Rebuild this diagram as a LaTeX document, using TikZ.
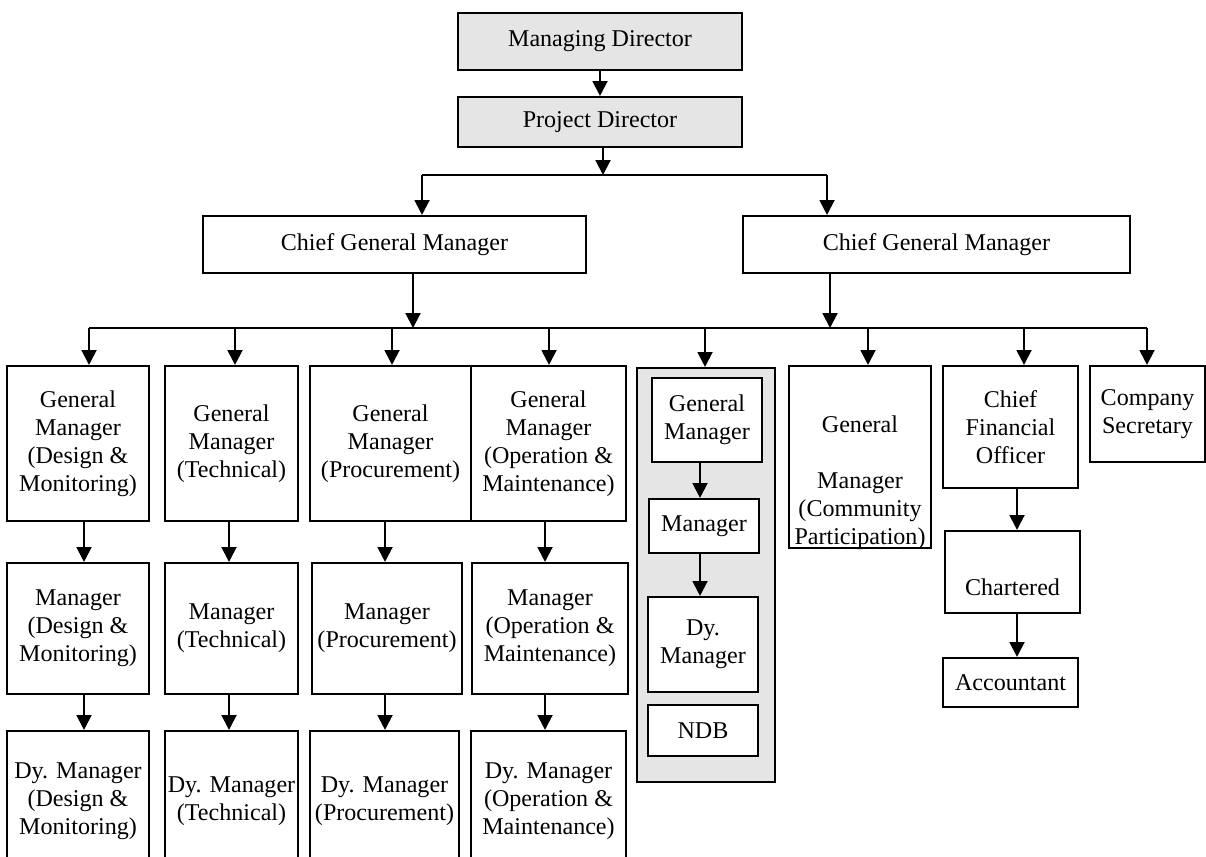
\documentclass[tikz,border=0pt]{standalone}
\usepackage{fontspec}
\setmainfont{Liberation Serif}
\usetikzlibrary{arrows.meta,calc}
\tikzset{
  box/.style={draw,line width=1.2pt,fill=white,align=center,inner sep=0pt},
  sz/.style 2 args={minimum width=#1*0.02cm,minimum height=#2*0.02cm},
  arr/.style={line width=1.2pt,-{Triangle[width=8.5pt,length=8.5pt]}}}

\begin{document}
\begin{tikzpicture}[x=0.02cm,y=-0.02cm,font=\fontsize{13.7}{15.9}\selectfont]
\useasboundingbox (0,0) rectangle (1206,856);
\clip (0,0) rectangle (1206,856);
% top of the chart
\node[box,fill=gray!20,sz={284}{57}] (md) at (600,41.5) {Managing Director};
\node[box,fill=gray!20,sz={284}{50}] (pd) at (600,122) {Project Director};
\node[box,sz={383}{57}] (cgm1) at (394.5,244.5) {Chief General Manager};
\node[box,sz={387}{57}] (cgm2) at (936.5,244.5) {Chief General Manager};
\coordinate (b1w) at (422,175);
\coordinate (b1e) at (827,175);
\coordinate (b2w) at (89,328);
\coordinate (b2e) at (1147,328);
% grey group
\node[box,fill=gray!20,sz={138}{414}] (grp) at (706,575) {};
\node[box,sz={110}{84}] (gm5) at (707,420) {General\\Manager};
\node[box,sz={110}{54}] (m5) at (704,526) {Manager};
\node[box,sz={110}{95}] (dm5) at (703,644.5) {Dy.\\Manager};
\node[box,sz={110}{51}] (ndb) at (703,730.5) {NDB};
% general managers
\node[box,sz={142}{155}] (gm1) at (78,443.5) {General\\Manager\\(Design \&\\Monitoring)};
\node[box,sz={133}{155}] (gm2) at (231.5,443.5) {General\\Manager\\(Technical)};
\node[box,sz={161}{155}] (gm3) at (390.5,443.5) {General\\Manager\\(Procurement)};
\node[box,sz={155}{155}] (gm4) at (548.5,443.5) {General\\Manager\\(Operation \&\\Maintenance)};
\node[box,sz={142}{182}] (gm6) at (860,457) {};
\scope
\clip (gm6.south west) rectangle (gm6.north east);
\node[align=center,inner sep=0pt] (gm6t) at (860,483) {General\\~\\Manager\\(Community\\Participation)};
\endscope
\node[box,sz={135}{122}] (cfo) at (1010.5,427) {Chief\\Financial\\Officer};
\node[box,sz={115}{96}] (cs) at (1147.5,414) {Company\\Secretary};
\node[box,sz={135}{82}] (ca) at (1012.5,572) {\strut\\Chartered};
\node[box,sz={135}{49}] (acc) at (1010.5,682.5) {Accountant};
% managers
\node[box,sz={142}{131}] (m1) at (78,628.5) {Manager\\(Design \&\\Monitoring)};
\node[box,sz={133}{131}] (m2) at (231.5,628.5) {Manager\\(Technical)};
\node[box,sz={150}{131}] (m3) at (387,628.5) {Manager\\(Procurement)};
\node[box,sz={156}{131}] (m4) at (550,628.5) {Manager\\(Operation \&\\Maintenance)};
% deputy managers
\node[box,sz={142}{140}] (d1) at (78,801) {Dy. Manager\\(Design \&\\Monitoring)};
\node[box,sz={133}{140}] (d2) at (231.5,801) {Dy. Manager\\(Technical)};
\node[box,sz={149}{140}] (d3) at (384.5,801) {Dy. Manager\\(Procurement)};
\node[box,sz={155}{140}] (d4) at (548.5,801) {Dy. Manager\\(Operation \&\\Maintenance)};
% connectors
\draw[arr] (md) -- (pd);
\draw[line width=1.2pt] (b1w) -- (b1e) (b2w) -- (b2e);
\draw[arr] (pd.south -| 603,0) -- (b1w -| 603,0);
\draw[arr] (b1w) -- (b1w |- cgm1.north);
\draw[arr] (b1e) -- (b1e |- cgm2.north);
\draw[arr] (cgm1.south -| 413,0) -- (b2w -| 413,0);
\draw[arr] (cgm2.south -| 830,0) -- (b2w -| 830,0);
\foreach \n/\x in {gm1/89,gm2/235,gm3/392,gm4/549,grp/705,gm6/868,cfo/1024,cs/1147}
  \draw[arr] (b2w -| \x,0) -- (\n.north -| \x,0);
\foreach \a/\b/\x in {gm1/m1/84,gm2/m2/229,gm3/m3/385,gm4/m4/545,m1/d1/84,m2/d2/229,m3/d3/385,m4/d4/545}
  \draw[arr] (\a.south -| \x,0) -- (\b.north -| \x,0);
\draw[arr] (gm5.south -| 700,0) -- (m5.north -| 700,0);
\draw[arr] (m5.south -| 700,0) -- (dm5.north -| 700,0);
\draw[arr] (cfo.south -| 1017,0) -- (ca.north -| 1017,0);
\draw[arr] (ca.south -| 1017,0) -- (acc.north -| 1017,0);
\end{tikzpicture}
\end{document}
